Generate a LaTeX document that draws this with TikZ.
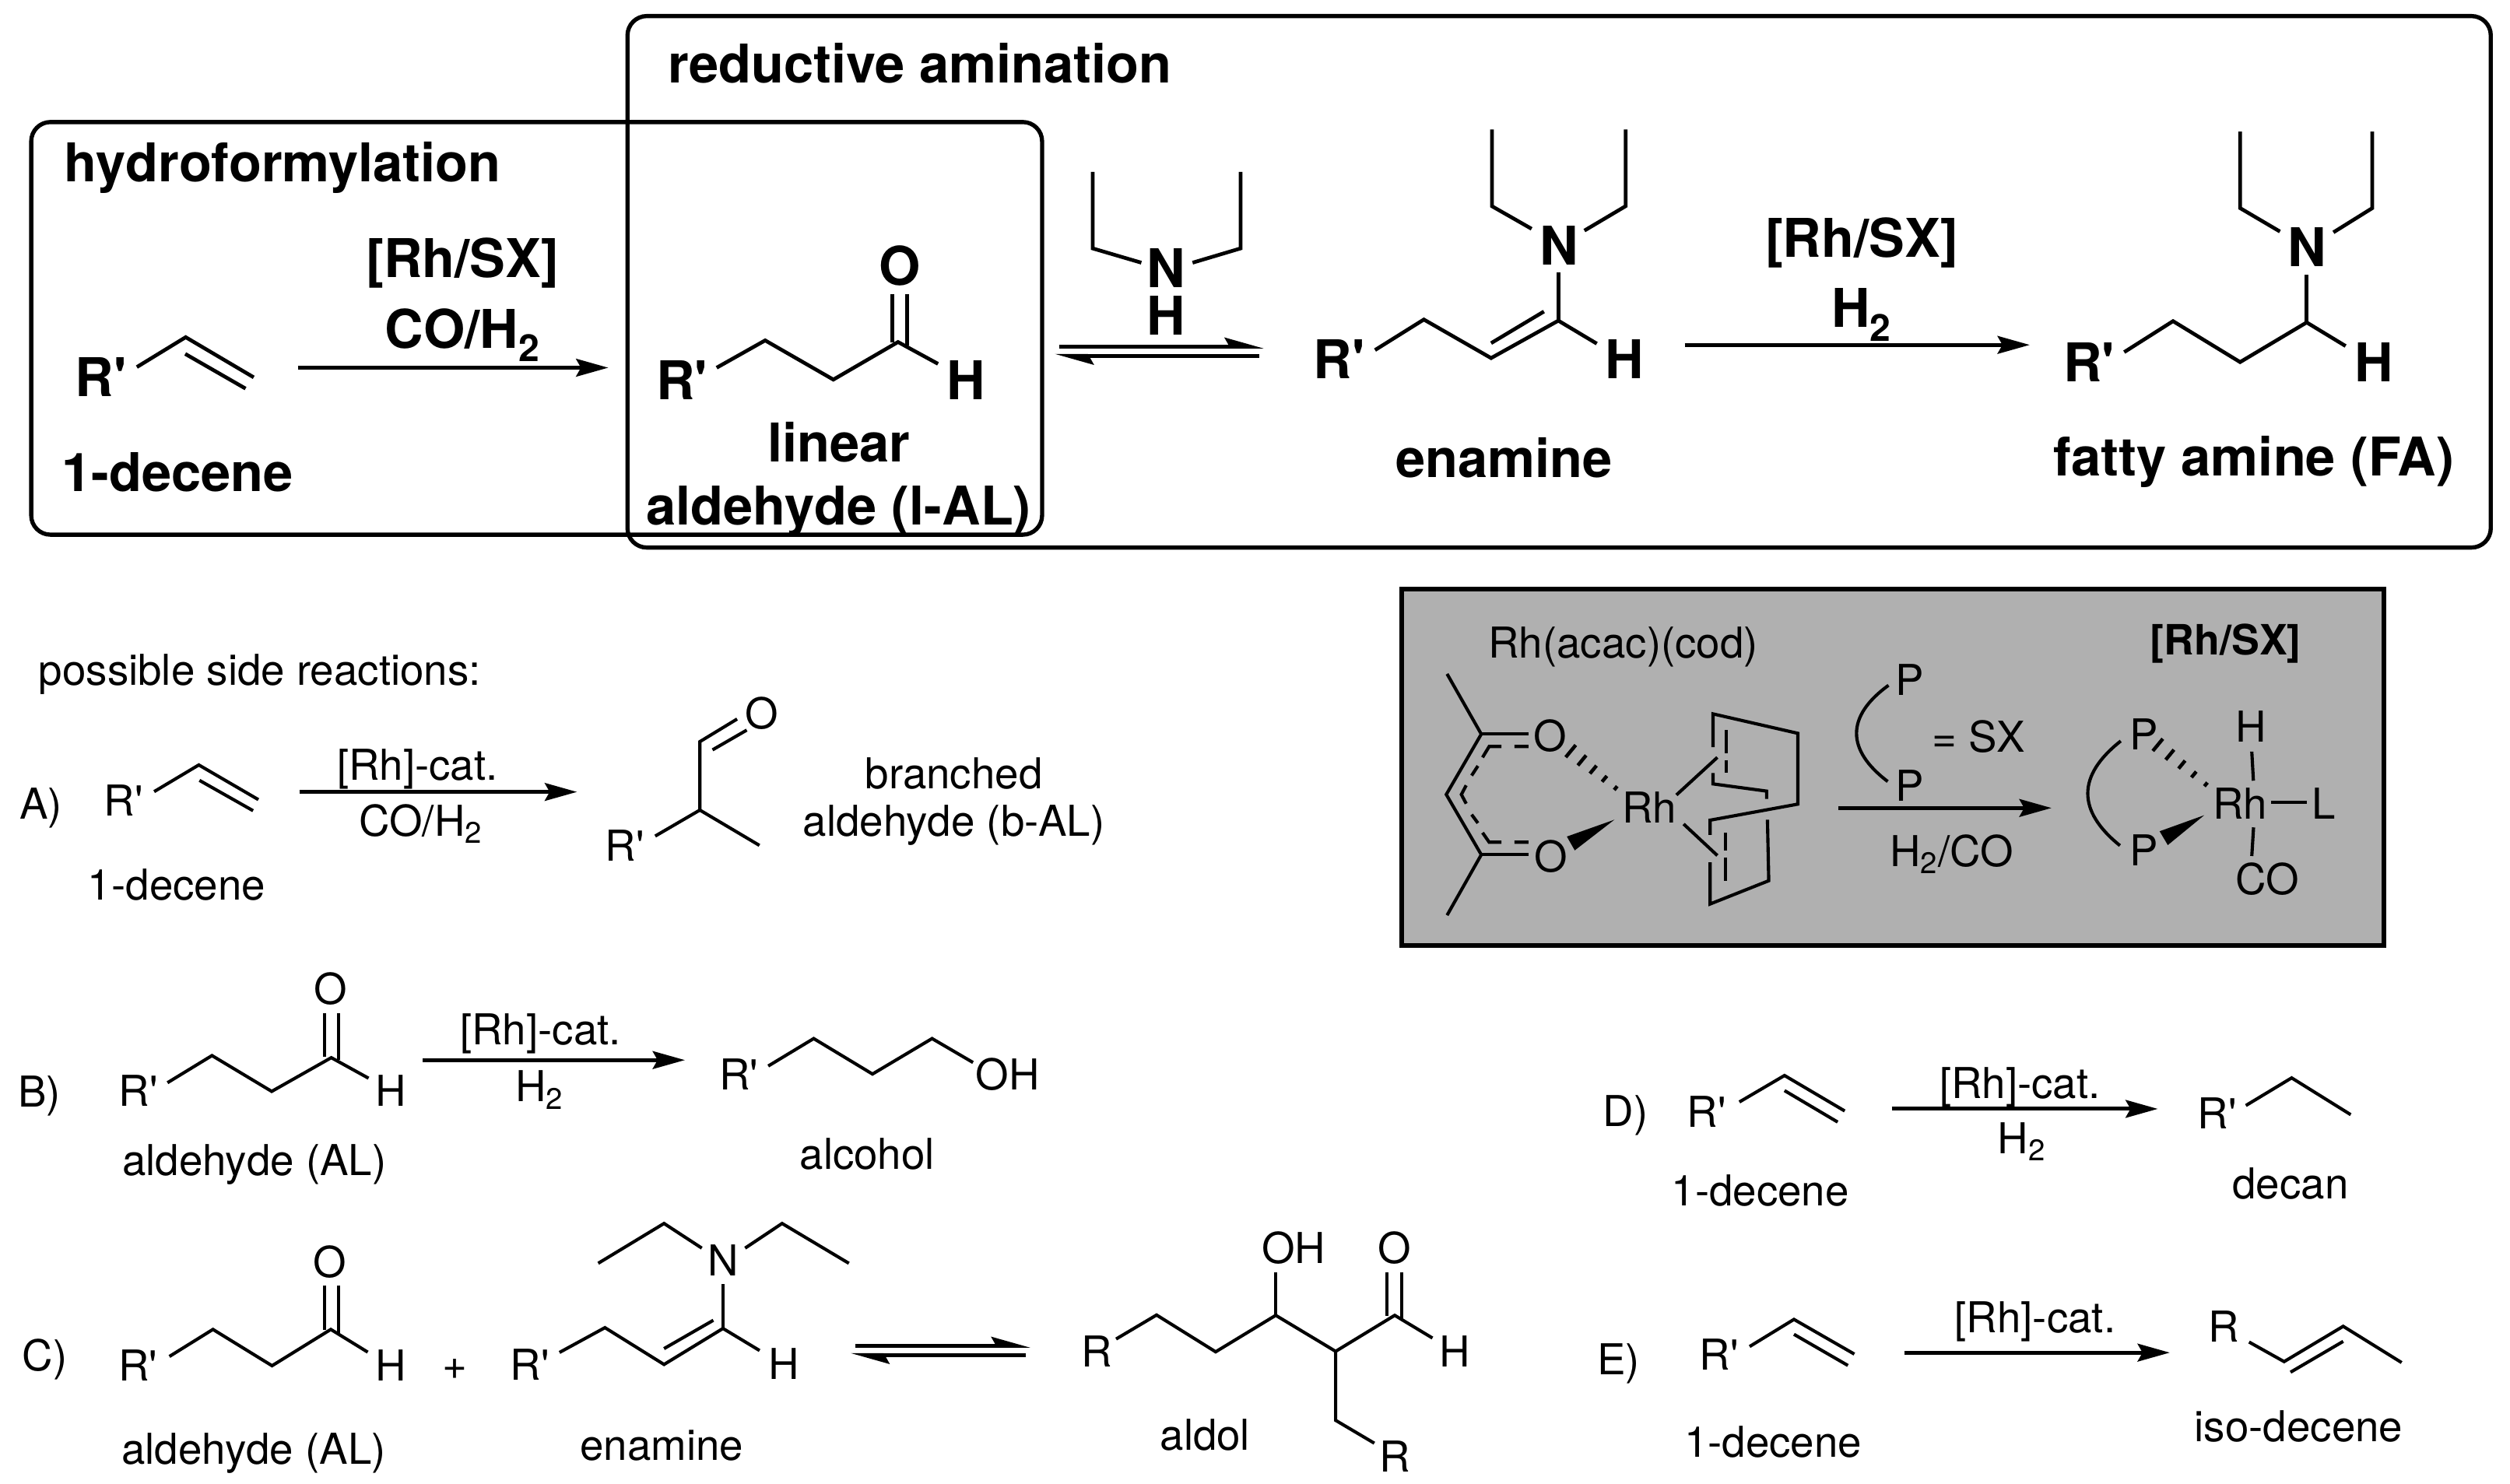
\documentclass[tikz,border=0pt]{standalone}
\usepackage{fontspec}
\setmainfont{TeX Gyre Heros}
\usetikzlibrary{arrows.meta,calc}
\newcommand{\Rp}{R\textquotesingle}
\begin{document}
\begin{tikzpicture}[x=1pt,y=-1pt]
\tikzstyle{every node}+=[inner sep=0pt,anchor=base]
\tikzstyle{lbl}=[font=\fontsize{26.5}{30}\selectfont]
\tikzstyle{blbl}=[font=\fontsize{33.25}{38}\selectfont\bfseries]
\tikzstyle{mlbl}=[font=\fontsize{26}{30}\selectfont\bfseries]
\tikzstyle{bond}=[line width=2pt]
\tikzstyle{bbond}=[line width=2.3pt]
\tikzstyle{frame}=[line width=2.6pt,rounded corners=12pt]
\tikzstyle{rxn}=[line width=2.4pt,-{Stealth[length=20pt,width=11pt,inset=3pt]}]
\tikzstyle{eq}=[line width=2.4pt,-{Stealth[harpoon,length=20pt,width=11pt,inset=3pt]}]
\useasboundingbox (0,0) rectangle (1563,924.2);
\begin{scope}[x=.9968pt]
% frames
\draw [frame] (19.5,76) rectangle (651,333);
\draw [frame] (392,10) rectangle (1556,341);
\node [blbl,anchor=base west] (hydro) at (40,113.2) {hydroformylation};
\node [blbl,anchor=base west] (redam) at (417,51.6) {reductive amination};
% top row: 1-decene
\node [blbl] (rpA) at (63,247) {\Rp};
\draw [bbond] (85.5,228.6) -- (116,210) -- (158.5,235);
\draw [bbond] (115.7,220.4) -- (153.4,242);
\node [blbl] (decA) at (111,306) {1-decene};
\coordinate (a1s) at (186,229); \coordinate (a1e) at (380,229);
\draw [rxn] (a1s) -- (a1e);
\node [blbl] (cat1) at (289,173) {[Rh/SX]};
\node [blbl] (gas1) at (289,217) {CO/H\textsubscript{2}};
% top row: linear aldehyde
\node [blbl] (rpB) at (426,249) {\Rp};
\draw [bbond] (447.7,229) -- (478,212) -- (520.6,236.4) -- (561,213) -- (586,226.6);
\draw [bbond] (557.5,183) -- (557.5,213);
\draw [bbond] (566.5,183) -- (566.5,215);
\node [blbl] (oB) at (562,177.6) {O};
\node [blbl] (hB) at (603.6,249) {H};
\node [blbl] (linB) at (524,287.6) {linear};
\node [blbl] (aldB) at (524,326.8) {aldehyde (l-AL)};
% diethylamine and equilibrium
\node [blbl] (nC) at (728.3,179) {N};
\node [blbl] (hC) at (728.3,208.5) {H};
\draw [bbond] (682.6,107) -- (682.6,154.7) -- (713,163.6);
\draw [bbond] (775,107) -- (775,154.7) -- (745,163.6);
\coordinate (e1s) at (661.7,215.8); \coordinate (e1e) at (789.5,215.8);
\coordinate (e2s) at (786.6,221.6); \coordinate (e2e) at (658.8,221.6);
\draw [eq] (e1s) -- (e1e);
\draw [eq] (e2s) -- (e2e);
% top row: enamine
\node [blbl] (rpD) at (836.5,236) {\Rp};
\draw [bbond] (859,218) -- (889.5,199) -- (931.5,223) -- (973.5,199.7) -- (997.5,214);
\draw [bbond] (931.5,213.7) -- (964.5,194);
\draw [bbond] (973.5,199.7) -- (973.5,169.6);
\draw [bbond] (956.8,142.5) -- (932,128.4) -- (932,80.6);
\draw [bbond] (989.8,143.6) -- (1015.5,128.4) -- (1015.5,80.6);
\node [blbl] (nD) at (974,165) {N};
\node [blbl] (hD) at (1015,236) {H};
\node [blbl] (enD) at (939.5,297.3) {enamine};
\coordinate (a2s) at (1052.5,214.8); \coordinate (a2e) at (1268,214.8);
\draw [rxn] (a2s) -- (a2e);
\node [blbl] (cat2) at (1163,160) {[Rh/SX]};
\node [blbl] (gas2) at (1163,204) {H\textsubscript{2}};
% top row: fatty amine
\node [blbl] (rpF) at (1305,237.5) {\Rp};
\draw [bbond] (1327,219.3) -- (1357.5,200) -- (1399.4,225.5) -- (1441,200.8) -- (1465.3,215.5);
\draw [bbond] (1441,200.8) -- (1441,170.9);
\draw [bbond] (1424.3,144.2) -- (1399.4,129.6) -- (1399.4,82);
\draw [bbond] (1457.7,144.7) -- (1482,129.6) -- (1482,82);
\node [blbl] (nF) at (1441,165.8) {N};
\node [blbl] (hF) at (1483,237.5) {H};
\node [blbl] (faF) at (1408,296.4) {fatty amine (FA)};
% D
\node [lbl] (capD) at (1015.5,701.3) {D)};
\node [lbl] (rpd) at (1066,701.9) {\Rp};
\draw [bond] (1086.6,686.3) -- (1114.8,669.8) -- (1152.4,691.9);
\draw [bond] (1114.8,679.2) -- (1148,698.8);
\node [lbl] (decd) at (1099.7,751) {1-decene};
\coordinate (r4s) at (1181.8,690.6); \coordinate (r4e) at (1348,690.6);
\draw [rxn] (r4s) -- (r4e);
\node [lbl] (catd) at (1261.9,684) {[Rh]-cat.};
\node [lbl] (gasd) at (1263,718.5) {H\textsubscript{2}};
\node [lbl] (rpd2) at (1385,703.2) {\Rp};
\draw [bond] (1403,688.5) -- (1431.6,671.3) -- (1468.5,694.2);
\node [lbl] (decan) at (1430.9,746.7) {decan};
% E
\node [lbl] (capE) at (1011,856) {E)};
\node [lbl] (rpe) at (1074,853.2) {\Rp};
\draw [bond] (1093,838.6) -- (1120.7,821.7) -- (1158.4,843.3);
\draw [bond] (1120.7,831) -- (1154.4,850.4);
\node [lbl] (dece) at (1107.6,907.3) {1-decene};
\coordinate (r5s) at (1189.7,842.4); \coordinate (r5e) at (1355.5,842.4);
\draw [rxn] (r5s) -- (r5e);
\node [lbl] (cate) at (1271.4,829.8) {[Rh]-cat.};
\node [lbl] (re) at (1389,836) {R};
\draw [bond] (1405,835.8) -- (1426.9,848) -- (1463.8,826) -- (1500.3,848.6);
\draw [bond] (1430.9,854.6) -- (1463.8,835.4);
\node [lbl] (isoe) at (1436,897.9) {iso-decene};
\end{scope}
% catalyst box
\draw [line width=2.8pt,fill=black!31] (873,367) rectangle (1484.5,589);
\node [lbl] (prec) at (1010.8,410) {Rh(acac)(cod)};
\node [mlbl] (rhsx) at (1386,408) {[Rh/SX]};
\draw [bond] (901.1,419.7) -- (922.4,457.2) -- (900.6,494.8) -- (922.4,532.3) -- (901.1,570);
\draw [bond] (922.4,457.2) -- (951.8,457.2);
\draw [bond] (922.4,532.3) -- (951.8,532.3);
\draw [bond] (951.8,464.9) -- (943.1,464.9) (935,464.9) -- (927.3,464.9) -- (923.2,471.7) (920.3,477) -- (916.4,483) (913,489.1) -- (910,494.8) -- (913,500.5) (916.4,507.3) -- (920.3,512.6) (923.2,518.6) -- (927.3,524.5) -- (935,524.5) (943.1,524.5) -- (951.8,524.5);
\node [lbl] (oT) at (965.2,467.7) {O};
\node [lbl] (oU) at (966,542.8) {O};
\node [lbl] (rhL) at (1027,512.4) {Rh};
\coordinate (hn1) at (1006.1,490.8); \coordinate (hw1) at (971.1,462.05);
\coordinate (hn2) at (1373.6,488.5); \coordinate (hw2) at (1336.2,457.75);
\foreach \a/\b in {hn1/hw1,hn2/hw2}
  \foreach \t in {0,0.2,0.4,0.6,0.8}
    \draw [line width=2.2pt] ($(\a)!\t!(\b)!{(1.5+\t*4.25)*1pt}!90:(\b)$) -- ($(\a)!\t!(\b)!{-(1.5+\t*4.25)*1pt}!90:(\b)$);
\fill [black] (1005.3,510.5) -- (975.7,521) -- (980.6,529.6) -- cycle;
\fill [black] (1372.6,507.7) -- (1344.8,517.7) -- (1349.9,526.3) -- cycle;
\draw [bond] (1100.1,497.6) -- (1100.1,492.7) -- (1066.7,488.2) -- (1066.7,481.4) (1066.7,465.3) -- (1066.7,444.6) -- (1119.5,456.7) -- (1119.5,500.8) -- (1064.9,510.8) -- (1064.9,520) (1064.9,537.1) -- (1064.9,563) -- (1101.4,548.5) -- (1100.6,510.5);
\draw [bond] (1075.1,454.7) -- (1075.1,469.3) (1075.1,473.3) -- (1075.1,481.4);
\draw [bond] (1074.5,518.6) -- (1074.5,529.9) (1074.5,533.9) -- (1074.5,548.8);
\draw [bond] (1043.9,495.1) -- (1069.4,471.7);
\draw [bond] (1048.4,513.2) -- (1069.4,532.8);
% ligand and activation
\node [lbl] (pA) at (1189,432.9) {P};
\node [lbl] (pB) at (1189,498.9) {P};
\draw [bond] (1176,426.8) .. controls (1149.5,446) and (1149.5,467) .. (1175.5,486.7);
\node [lbl] (sx) at (1232,468.5) {= SX};
\coordinate (a3s) at (1144.7,503.2); \coordinate (a3e) at (1277.5,503.2);
\draw [rxn] (a3s) -- (a3e);
\node [lbl] (gas3) at (1215.3,539.6) {H\textsubscript{2}/CO};
% active complex
\node [lbl] (pC) at (1335,466.8) {P};
\node [lbl] (pD) at (1335,539) {P};
\draw [bond] (1320.6,461.5) .. controls (1293.3,483) and (1293.3,505) .. (1320.1,526.6);
\node [lbl] (rhR) at (1395,510.1) {Rh};
\node [lbl] (hR) at (1401.5,462) {H};
\node [lbl] (lR) at (1447,510.1) {L};
\node [lbl] (coR) at (1411.9,557.3) {CO};
\draw [bond] (1402.2,468.1) -- (1403.2,486.2);
\draw [bond] (1414.3,499.6) -- (1436.4,499.6);
\draw [bond] (1403.3,515.3) -- (1402.2,533.1);
% side reactions
\node [lbl,anchor=base west] (side) at (24,426.6) {possible side reactions:};
% A
\node [lbl] (capA) at (25.5,509.9) {A)};
\node [lbl] (rpa) at (77,508) {\Rp};
\draw [bond] (96,493) -- (123.8,476.4) -- (160.9,498);
\draw [bond] (124.2,486) -- (157.6,504.9);
\node [lbl] (deca) at (110,560.4) {1-decene};
\coordinate (r1s) at (186.4,493.2); \coordinate (r1e) at (359.3,493.2);
\draw [rxn] (r1s) -- (r1e);
\node [lbl] (cata) at (260,485.7) {[Rh]-cat.};
\node [lbl] (gasa) at (262,520.7) {CO/H\textsubscript{2}};
\node [lbl] (oa) at (474.3,454) {O};
\draw [bond] (459,447.8) -- (435.8,461.9) -- (435.8,504.5) -- (408,520.7);
\draw [bond] (443.7,467) -- (465,454.7);
\draw [bond] (435.8,504.5) -- (472.9,526.5);
\node [lbl] (rpa2) at (389,536.3) {\Rp};
\node [lbl] (bra) at (594,491) {branched};
\node [lbl] (alda) at (594,520.7) {aldehyde (b-AL)};
% B
\node [lbl] (capB) at (24.5,689.4) {B)};
\node [lbl] (rpb) at (86.2,689) {\Rp};
\draw [bond] (104.3,674.3) -- (132,657.4) -- (169.2,679.7) -- (206.3,658.7) -- (229.5,671.5);
\draw [bond] (202.1,631) -- (202.1,658);
\draw [bond] (211,631) -- (211,660);
\node [lbl] (ob) at (205.8,625.2) {O};
\node [lbl] (hb) at (243.4,689) {H};
\node [lbl] (aldb) at (158.4,732.2) {aldehyde (AL)};
\coordinate (r2s) at (263.3,660.2); \coordinate (r2e) at (426.5,660.2);
\draw [rxn] (r2s) -- (r2e);
\node [lbl] (catb) at (336.6,650.5) {[Rh]-cat.};
\node [lbl] (gasb) at (336,686.2) {H\textsubscript{2}};
\node [lbl] (rpb2) at (460,678.6) {\Rp};
\draw [bond] (478.4,663.9) -- (506.7,646.8) -- (543.3,668.9) -- (580.4,646.8) -- (605.9,661.7);
\node [lbl] (ohb) at (627.5,678.6) {OH};
\node [lbl] (alcb) at (540,728.3) {alcohol};
% C
\begin{scope}[y=-.9968pt]
\node [lbl] (capC) at (28,856.6) {C)};
\node [lbl] (rpc) at (85.9,862.8) {\Rp};
\draw [bond] (105.5,847.5) -- (132.6,830.6) -- (169.4,853.3) -- (206,830.6) -- (229,844.8);
\draw [bond] (201.9,803) -- (201.9,831);
\draw [bond] (211,803) -- (211,833);
\node [lbl] (oc) at (205.5,798.3) {O};
\node [lbl] (hc) at (243.5,862.8) {H};
\node [lbl] (aldc) at (158,914.8) {aldehyde (AL)};
\node [lbl] (plus) at (283.3,862) {+};
\node [lbl] (rpc2) at (330,862.3) {\Rp};
\draw [bond] (348.4,845) -- (376.7,829.5) -- (413.5,852.5) -- (450.2,830) -- (473,843.8);
\draw [bond] (413.5,842.6) -- (444.2,824.9);
\draw [bond] (450.2,830) -- (450.2,802.4);
\draw [bond] (437,779.8) -- (413.5,764.4) -- (372.5,789.3);
\draw [bond] (464,779.8) -- (487,764.4) -- (528.6,789.3);
\node [lbl] (nc) at (450.2,797) {N};
\node [lbl] (hc2) at (488.2,862) {H};
\node [lbl] (enc) at (412,912.3) {enamine};
\coordinate (e3s) at (532.6,840.8); \coordinate (e3e) at (641.7,840.8);
\coordinate (e4s) at (638.7,846.6); \coordinate (e4e) at (529.5,846.6);
\draw [eq] (e3s) -- (e3e);
\draw [eq] (e4s) -- (e4e);
\node [lbl] (rc) at (683,854) {R};
\draw [bond] (695,836.6) -- (720.2,821.6) -- (757,844.6) -- (794.4,821.8) -- (831.7,844.3) -- (868.5,821.8) -- (892,836);
\draw [bond] (794.4,821.8) -- (794.4,795);
\draw [bond] (863.7,795) -- (863.7,822);
\draw [bond] (872.7,795) -- (872.7,824);
\draw [bond] (831.7,844.3) -- (831.7,887.4) -- (855.8,901.7);
\node [lbl] (ohc) at (805.5,789.3) {OH};
\node [lbl] (oc2) at (868.5,789.3) {O};
\node [lbl] (hc3) at (905.8,854) {H};
\node [lbl] (rc2) at (868.5,919.7) {R};
\node [lbl] (aldol) at (750.4,905.8) {aldol};
\end{scope}
\end{tikzpicture}
\end{document}
